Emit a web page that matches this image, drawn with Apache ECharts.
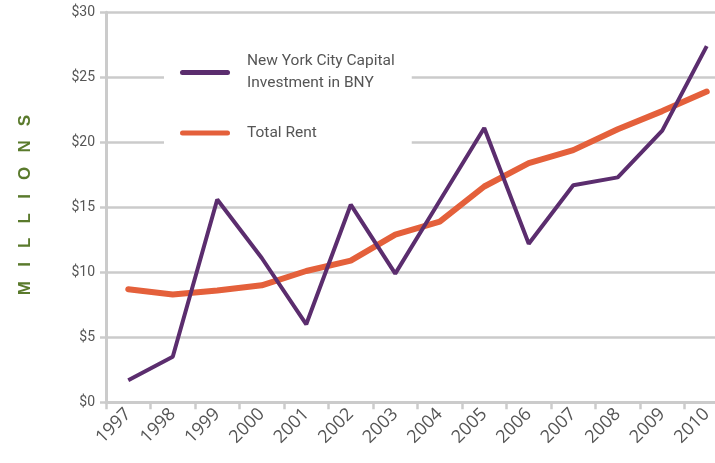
<!DOCTYPE html>
<html>
<head>
<meta charset="utf-8">
<script src="https://cdn.jsdelivr.net/npm/echarts@6/dist/echarts.min.js"></script>
<style>
  html, body { margin: 0; padding: 0; background: #fff; }
  #main { width: 715px; height: 463px; }
</style>
</head>
<body>
<div id="main"></div>
<script>
  var years = ["1997", "1998", "1999", "2000", "2001", "2002", "2003", "2004", "2005", "2006", "2007", "2008", "2009", "2010"];
  var nycInvestment = [1.7, 3.5, 15.6, 11.1, 6.0, 15.2, 9.9, 15.5, 21.1, 12.2, 16.7, 17.3, 20.9, 27.4];
  var totalRent = [8.7, 8.3, 8.6, 9.0, 10.1, 10.9, 12.9, 13.9, 16.6, 18.4, 19.4, 21.0, 22.4, 23.9];
  var yTicks = [0, 5, 10, 15, 20, 25, 30];

  var gray = "#cbcbcb";
  var textColor = "#555555";

  var chartDom = document.getElementById("main");
  var myChart = echarts.init(chartDom);

  // rounded line used as legend key
  var capsule = "path://M2.5,0 L47.5,0 A2.5,2.5 0 0 1 47.5,5 L2.5,5 A2.5,2.5 0 0 1 2.5,0 Z";

  var option = {
    animation: false,
    grid: {
      left: 106,
      top: 12.3,
      width: 623,
      height: 390,
      outerBoundsMode: "none",
    },
    legend: {
      orient: "vertical",
      left: 164,
      top: 39.5,
      padding: [0, 17, 10, 16],
      backgroundColor: "#fff",
      icon: capsule,
      itemWidth: 50,
      itemHeight: 5,
      itemGap: 16.5,
      textStyle: {
        fontFamily: "Roboto",
        fontSize: 15.5,
        color: textColor,
        lineHeight: 22,
      },
      formatter: function (name) {
        return name.replace("Capital ", "Capital\n");
      },
      data: [
        { name: "New York City Capital Investment in BNY", textStyle: { padding: [22, 0, 0, 12] } },
        { name: "Total Rent", textStyle: { padding: [0, 0, 0, 12] } },
      ],
    },
    xAxis: {
      type: "category",
      data: years,
      boundaryGap: true,
      axisLine: { lineStyle: { color: gray, width: 3 } },
      axisTick: { show: true, length: 7, lineStyle: { color: gray, width: 2.5 } },
      axisLabel: {
        rotate: 45,
        margin: 9,
        fontFamily: "Open Sans",
        fontSize: 18,
        color: textColor,
        interval: 0,
      },
      splitLine: { show: false },
    },
    yAxis: {
      type: "value",
      min: yTicks[0],
      max: yTicks[yTicks.length - 1],
      interval: 5,
      axisLine: { show: true, lineStyle: { color: gray, width: 3 } },
      axisTick: { show: true, length: 6, lineStyle: { color: gray, width: 2.5 } },
      axisLabel: {
        margin: 11,
        fontFamily: "Roboto",
        fontSize: 14,
        color: textColor,
        formatter: "${value}",
      },
      splitLine: { lineStyle: { color: gray, width: 2.5 } },
    },
    graphic: [
      {
        type: "text",
        x: 25,
        y: 205,
        rotation: Math.PI / 2,
        style: {
          text: "M   I   L   L   I   O   N   S",
          fill: "#5a7a2c",
          font: "bold 17px 'Liberation Sans'",
          align: "center",
          verticalAlign: "middle",
        },
      },
    ],
    series: [
      {
        name: "New York City Capital Investment in BNY",
        type: "line",
        data: nycInvestment,
        symbol: "none",
        color: "#5b2d6e",
        lineStyle: { width: 4, color: "#5b2d6e" },
        z: 3,
      },
      {
        name: "Total Rent",
        type: "line",
        data: totalRent,
        symbol: "none",
        color: "#e4603b",
        lineStyle: { width: 6, color: "#e4603b", cap: "round" },
        z: 2,
      },
    ],
  };

  myChart.setOption(option);
  window.onresize = function () {
    myChart.resize();
  };
</script>
</body>
</html>
